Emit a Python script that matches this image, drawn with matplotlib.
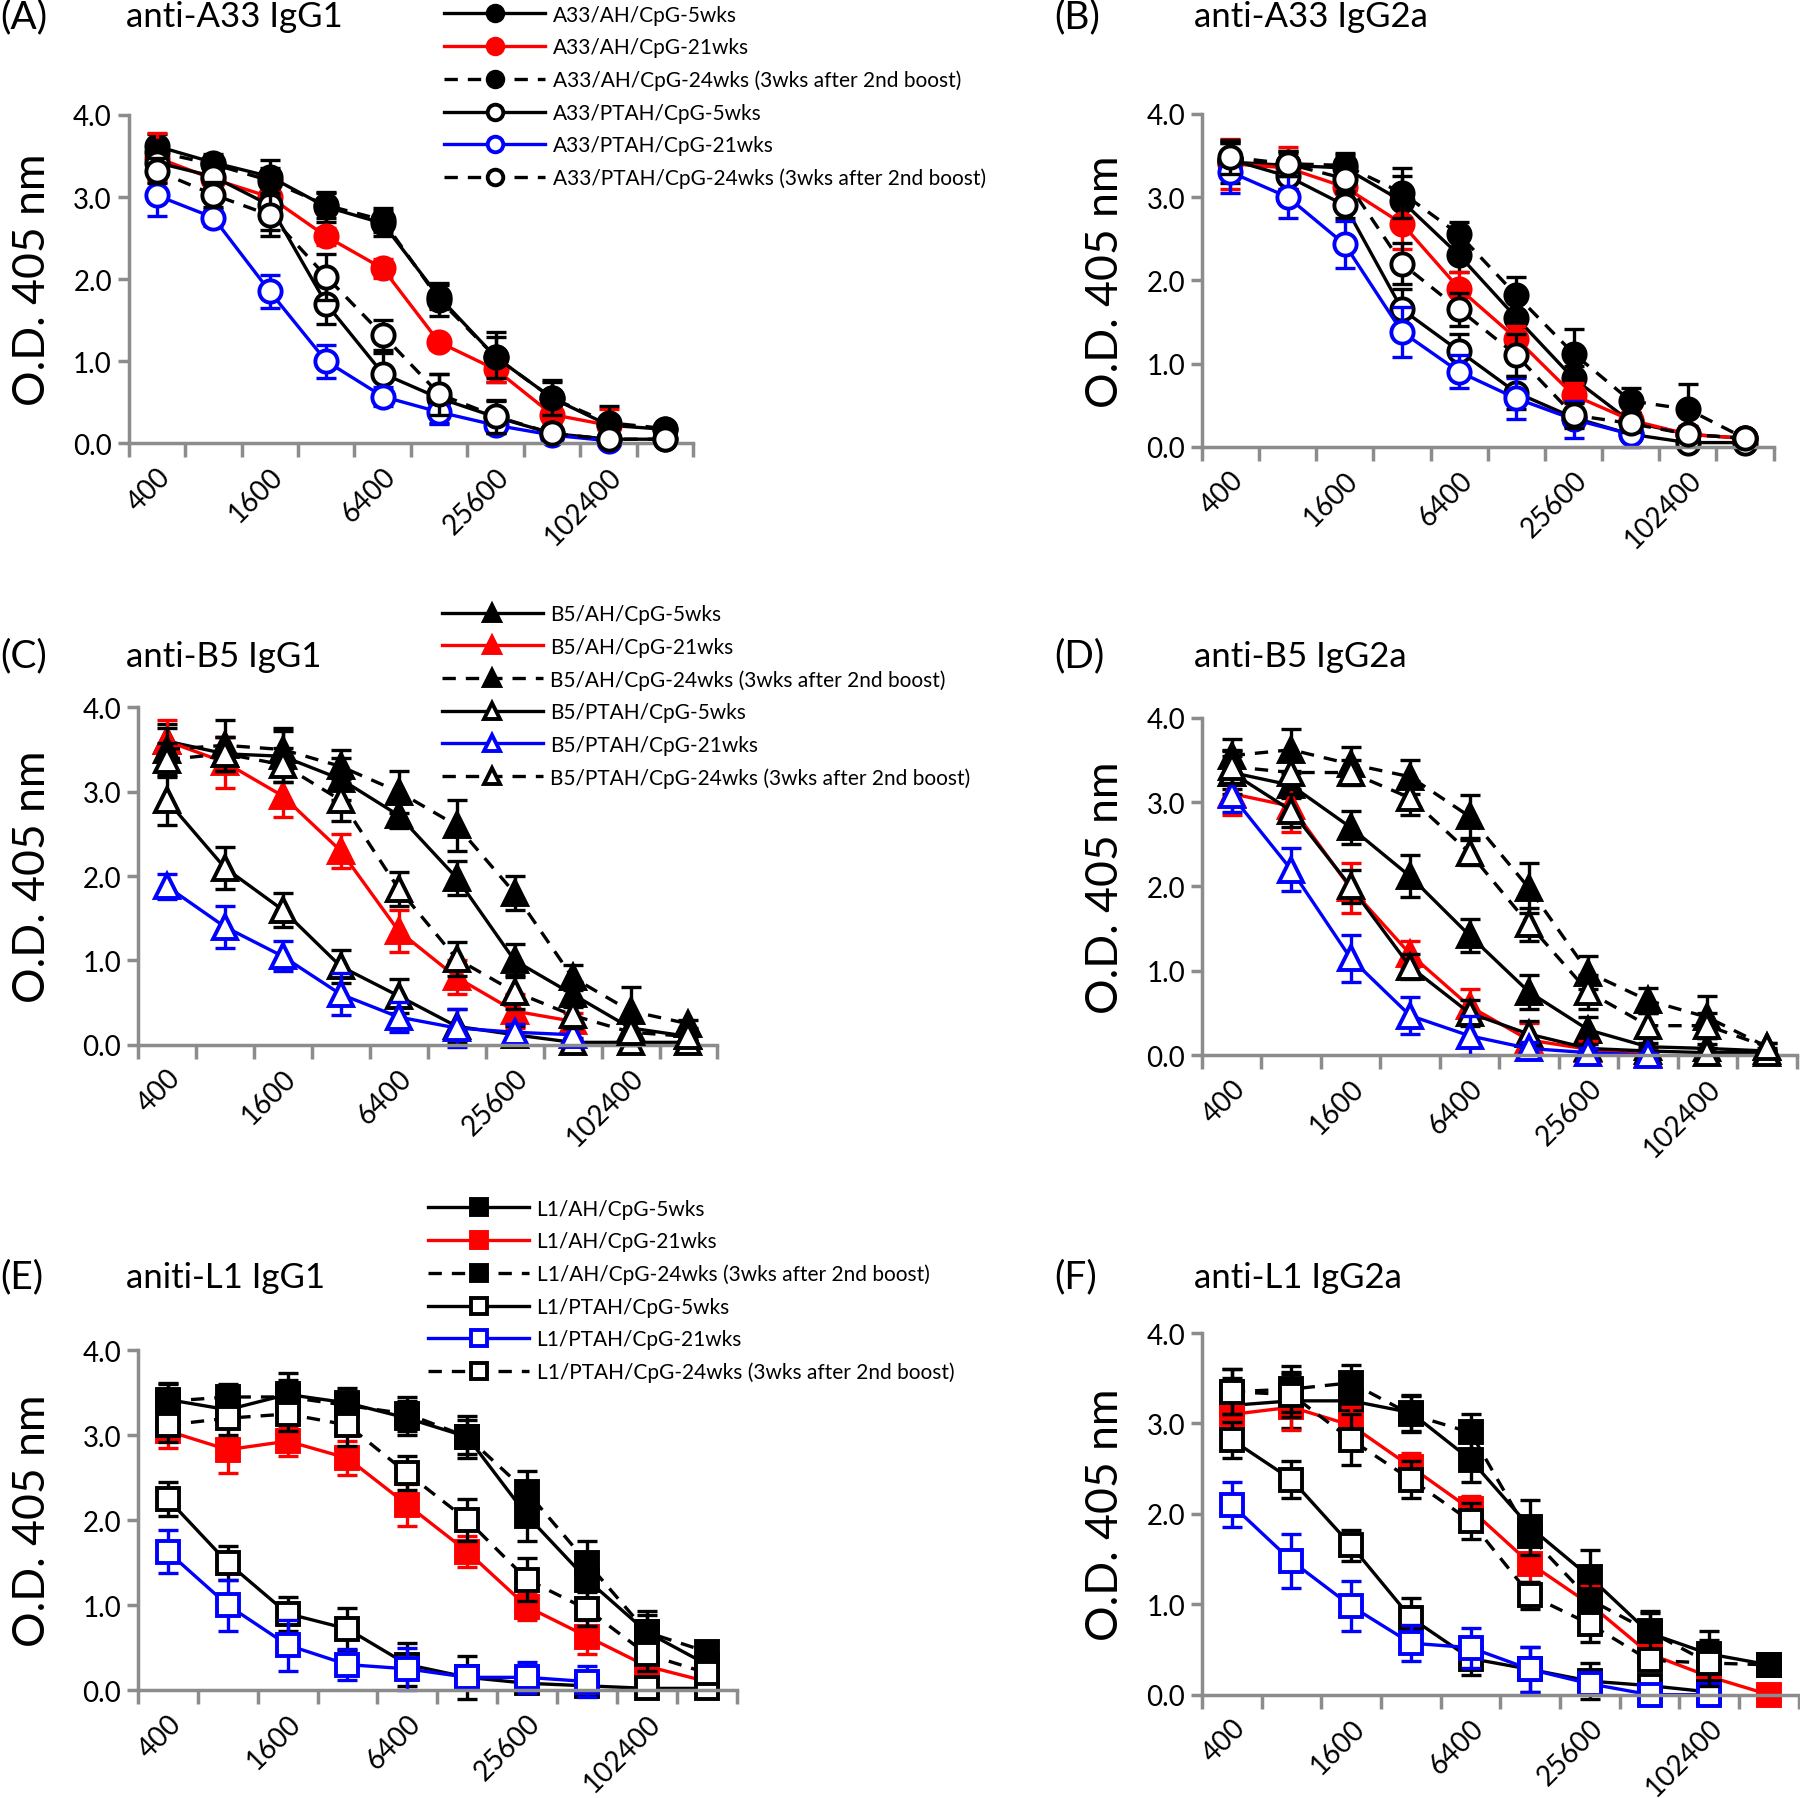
import numpy as np
import matplotlib.pyplot as plt

plt.rcParams['font.family'] = ['Lato', 'DejaVu Sans']

nan = np.nan
dilutions = ['400', '800', '1600', '3200', '6400', '12800', '25600', '51200', '102400', '204800']
groups = ['AH/CpG-5wks', 'AH/CpG-21wks', 'AH/CpG-24wks (3wks after 2nd boost)',
          'PTAH/CpG-5wks', 'PTAH/CpG-21wks', 'PTAH/CpG-24wks (3wks after 2nd boost)']

# O.D. 405 nm means, order of series = groups
a33_igg1 = [
    [3.62, 3.42, 3.25, 2.88, 2.68, 1.78, 1.05, 0.55, 0.22, 0.17],
    [3.48, 3.22, 3.00, 2.52, 2.13, 1.23, 0.90, 0.35, 0.22, nan],
    [3.55, 3.40, 3.20, 2.90, 2.72, 1.75, 1.05, 0.55, 0.25, 0.18],
    [3.42, 3.25, 2.90, 1.70, 0.85, 0.55, 0.32, 0.12, 0.05, 0.05],
    [3.02, 2.75, 1.85, 1.00, 0.57, 0.38, 0.22, 0.10, 0.03, nan],
    [3.32, 3.03, 2.78, 2.03, 1.32, 0.60, 0.33, 0.12, 0.05, 0.05],
]
a33_igg1_err = [
    [0.15, 0.10, 0.20, 0.18, 0.15, 0.15, 0.30, 0.22, 0.10, 0.05],
    [0.30, 0.10, 0.15, 0.10, 0.12, 0.08, 0.15, 0.10, 0.20, 0.05],
    [0.15, 0.10, 0.15, 0.15, 0.15, 0.20, 0.25, 0.20, 0.20, 0.05],
    [0.20, 0.15, 0.30, 0.25, 0.25, 0.30, 0.20, 0.05, 0.05, 0.03],
    [0.25, 0.10, 0.20, 0.20, 0.12, 0.15, 0.08, 0.05, 0.03, 0.03],
    [0.15, 0.15, 0.25, 0.28, 0.18, 0.25, 0.20, 0.05, 0.05, 0.03],
]

a33_igg2a = [
    [3.42, 3.38, 3.35, 2.95, 2.30, 1.55, 0.82, 0.30, 0.15, 0.10],
    [3.40, 3.35, 3.12, 2.68, 1.90, 1.30, 0.62, 0.32, 0.15, 0.10],
    [3.45, 3.40, 3.38, 3.05, 2.55, 1.82, 1.12, 0.55, 0.45, 0.10],
    [3.45, 3.25, 2.90, 1.65, 1.15, 0.65, 0.35, 0.15, 0.05, 0.05],
    [3.30, 3.00, 2.43, 1.38, 0.90, 0.58, 0.33, 0.15, nan, nan],
    [3.48, 3.40, 3.22, 2.20, 1.65, 1.10, 0.38, 0.28, 0.15, 0.10],
]
a33_igg2a_err = [
    [0.25, 0.15, 0.15, 0.30, 0.20, 0.20, 0.15, 0.10, 0.10, 0.05],
    [0.30, 0.25, 0.20, 0.30, 0.20, 0.15, 0.15, 0.10, 0.05, 0.05],
    [0.20, 0.15, 0.15, 0.30, 0.15, 0.22, 0.30, 0.15, 0.30, 0.05],
    [0.20, 0.15, 0.15, 0.25, 0.20, 0.20, 0.10, 0.05, 0.03, 0.03],
    [0.25, 0.25, 0.28, 0.30, 0.20, 0.25, 0.22, 0.15, 0.03, 0.03],
    [0.20, 0.15, 0.15, 0.25, 0.20, 0.25, 0.15, 0.10, 0.05, 0.03],
]

b5_igg1 = [
    [3.60, 3.45, 3.42, 3.15, 2.72, 1.98, 1.00, 0.60, 0.20, 0.10],
    [3.60, 3.35, 2.95, 2.30, 1.35, 0.80, 0.40, 0.28, nan, nan],
    [3.50, 3.55, 3.50, 3.30, 3.00, 2.60, 1.80, 0.80, 0.40, 0.25],
    [2.90, 2.10, 1.60, 0.93, 0.58, 0.22, 0.12, 0.03, 0.03, 0.03],
    [1.88, 1.40, 1.05, 0.60, 0.33, 0.20, 0.15, 0.12, nan, nan],
    [3.38, 3.45, 3.32, 2.90, 1.85, 1.02, 0.63, 0.35, 0.15, 0.10],
]
b5_igg1_err = [
    [0.20, 0.20, 0.30, 0.25, 0.15, 0.20, 0.20, 0.15, 0.10, 0.05],
    [0.25, 0.30, 0.25, 0.20, 0.25, 0.20, 0.20, 0.10, 0.00, 0.00],
    [0.25, 0.30, 0.25, 0.20, 0.25, 0.30, 0.20, 0.15, 0.28, 0.05],
    [0.30, 0.25, 0.20, 0.20, 0.20, 0.20, 0.10, 0.05, 0.05, 0.05],
    [0.15, 0.25, 0.18, 0.25, 0.18, 0.22, 0.10, 0.08, 0.00, 0.00],
    [0.20, 0.20, 0.20, 0.25, 0.20, 0.20, 0.20, 0.15, 0.15, 0.05],
]

b5_igg2a = [
    [3.35, 3.20, 2.70, 2.12, 1.42, 0.75, 0.30, 0.10, 0.08, 0.05],
    [3.10, 2.95, 1.98, 1.20, 0.58, 0.18, 0.07, 0.02, nan, nan],
    [3.55, 3.62, 3.45, 3.30, 2.83, 1.98, 0.98, 0.65, 0.45, 0.10],
    [3.35, 2.90, 2.00, 1.05, 0.50, 0.25, 0.08, 0.05, 0.03, 0.03],
    [3.08, 2.20, 1.15, 0.47, 0.23, 0.08, 0.03, 0.00, nan, nan],
    [3.42, 3.35, 3.35, 3.05, 2.40, 1.55, 0.75, 0.35, 0.35, 0.10],
]
b5_igg2a_err = [
    [0.20, 0.15, 0.20, 0.25, 0.20, 0.20, 0.15, 0.05, 0.05, 0.03],
    [0.25, 0.30, 0.30, 0.15, 0.20, 0.20, 0.10, 0.05, 0.00, 0.00],
    [0.20, 0.25, 0.20, 0.20, 0.25, 0.30, 0.20, 0.15, 0.25, 0.05],
    [0.25, 0.20, 0.20, 0.15, 0.15, 0.15, 0.05, 0.05, 0.05, 0.03],
    [0.20, 0.25, 0.28, 0.22, 0.23, 0.08, 0.05, 0.03, 0.00, 0.00],
    [0.20, 0.20, 0.15, 0.20, 0.15, 0.20, 0.20, 0.15, 0.15, 0.05],
]

l1_igg1 = [
    [3.42, 3.30, 3.48, 3.38, 3.20, 2.98, 2.05, 1.30, 0.68, 0.30],
    [3.05, 2.83, 2.93, 2.73, 2.18, 1.63, 0.98, 0.63, 0.28, 0.10],
    [3.40, 3.45, 3.45, 3.35, 3.25, 2.98, 2.33, 1.50, 0.68, 0.45],
    [2.25, 1.50, 0.90, 0.72, 0.30, 0.15, 0.08, 0.05, 0.02, 0.02],
    [1.63, 1.00, 0.53, 0.30, 0.25, 0.15, 0.15, 0.10, nan, nan],
    [3.12, 3.20, 3.25, 3.12, 2.55, 2.00, 1.30, 0.95, 0.42, 0.20],
]
l1_igg1_err = [
    [0.20, 0.15, 0.25, 0.18, 0.20, 0.25, 0.30, 0.30, 0.25, 0.10],
    [0.20, 0.28, 0.18, 0.20, 0.25, 0.18, 0.15, 0.20, 0.10, 0.05],
    [0.20, 0.15, 0.20, 0.15, 0.20, 0.20, 0.25, 0.25, 0.20, 0.10],
    [0.20, 0.20, 0.20, 0.25, 0.25, 0.25, 0.10, 0.05, 0.05, 0.05],
    [0.25, 0.30, 0.30, 0.18, 0.25, 0.10, 0.18, 0.18, 0.00, 0.00],
    [0.20, 0.20, 0.20, 0.25, 0.20, 0.25, 0.25, 0.20, 0.20, 0.10],
]

l1_igg2a = [
    [3.20, 3.25, 3.25, 3.12, 2.60, 1.85, 1.30, 0.68, 0.45, 0.33],
    [3.10, 3.18, 2.98, 2.52, 2.05, 1.45, 1.00, 0.45, 0.20, 0.00],
    [3.35, 3.38, 3.45, 3.10, 2.90, 1.75, 1.05, 0.70, 0.35, 0.33],
    [2.82, 2.38, 1.65, 0.85, 0.40, 0.28, 0.15, 0.10, 0.03, nan],
    [2.10, 1.48, 0.98, 0.57, 0.52, 0.28, 0.12, 0.00, 0.00, nan],
    [3.35, 3.32, 2.82, 2.38, 1.92, 1.10, 0.78, 0.38, 0.35, nan],
]
l1_igg2a_err = [
    [0.30, 0.30, 0.30, 0.20, 0.25, 0.30, 0.30, 0.25, 0.25, 0.05],
    [0.20, 0.25, 0.20, 0.15, 0.15, 0.20, 0.20, 0.10, 0.10, 0.05],
    [0.25, 0.25, 0.20, 0.20, 0.20, 0.20, 0.20, 0.20, 0.20, 0.05],
    [0.20, 0.20, 0.17, 0.22, 0.18, 0.25, 0.20, 0.10, 0.05, 0.00],
    [0.25, 0.30, 0.28, 0.20, 0.22, 0.25, 0.10, 0.05, 0.05, 0.00],
    [0.25, 0.25, 0.28, 0.20, 0.20, 0.15, 0.20, 0.10, 0.25, 0.00],
]

colors = ['black', 'red', 'black', 'black', 'blue', 'black']
styles = ['-', '-', '--', '-', '-', '--']
filled = [True, True, True, False, False, False]

W, H = 1568, 1567  # layout measured on the shrunk reference
panels = [
    # means, errs, antigen, marker, panel letter, title, (left, right, y4, y0), legend (x, top)
    (a33_igg1, a33_igg1_err, 'A33', 'o', '(A)', 'anti-A33 IgG1', (112, 604, 101, 387), (387, 5)),
    (a33_igg2a, a33_igg2a_err, 'A33', 'o', '(B)', 'anti-A33 IgG2a', (1047, 1545, 100, 390), None),
    (b5_igg1, b5_igg1_err, 'B5', '^', '(C)', 'anti-B5 IgG1', (120, 625, 617, 911), (385, 527)),
    (b5_igg2a, b5_igg2a_err, 'B5', '^', '(D)', 'anti-B5 IgG2a', (1047, 1565, 626, 920), None),
    (l1_igg1, l1_igg1_err, 'L1', 's', '(E)', 'aniti-L1 IgG1', (120, 642, 1177, 1473), (373, 1045)),
    (l1_igg2a, l1_igg2a_err, 'L1', 's', '(F)', 'anti-L1 IgG2a', (1047, 1567, 1162, 1477), None),
]
header_y = [15, 15, 572, 572, 1113, 1113]

fig = plt.figure(figsize=(18, 17.99), dpi=100)
x = np.arange(len(dilutions))
axis_gray = '#8c8c8c'

for k, (means, errs, ag, mk, letter, title, box, leg) in enumerate(panels):
    l, r, y4, y0 = box
    ax = fig.add_axes([l / W, 1 - y0 / H, (r - l) / W, (y0 - y4) / H])
    handles = []
    for i in range(6):
        y = np.array(means[i], dtype=float)
        e = np.array(errs[i], dtype=float)
        c = colors[i]
        ax.errorbar(x, y, yerr=e, fmt='none', ecolor=c, elinewidth=2.4, capsize=7.5,
                    capthick=2.4, zorder=2 + i * 0.1, clip_on=False)
        ms = 16 if mk != '^' else 17
        h, = ax.plot(x, y, color=c, ls=styles[i], lw=2.4, marker=mk, ms=ms,
                     mfc=c if filled[i] else 'white', mec=c, mew=2.8,
                     zorder=2.05 + i * 0.1, clip_on=False,
                     label=f'{ag}/{groups[i]}')
        if styles[i] == '--':
            h.set_dashes((4, 3))
        handles.append(h)

    ax.set_xlim(-0.5, len(dilutions) - 0.5)
    ax.set_ylim(0, 4)
    ax.set_yticks([0, 1, 2, 3, 4])
    ax.set_yticklabels(['0.0', '1.0', '2.0', '3.0', '4.0'])
    ax.set_xticks(np.arange(-0.5, len(dilutions)), labels=[])
    ax.set_xticks(x[::2], labels=dilutions[::2], minor=True)
    ax.tick_params(axis='x', which='major', direction='out', length=10, width=2.5, color=axis_gray)
    ax.tick_params(axis='x', which='minor', length=0, pad=14, labelsize=20)
    ax.tick_params(axis='y', direction='out', length=8, width=2.5, color=axis_gray,
                   labelsize=20, pad=4)
    for lab in ax.get_xticklabels(minor=True):
        lab.set_rotation(45)
        lab.set_ha('right')
        lab.set_va('top')
        lab.set_rotation_mode('anchor')
    for s in ['top', 'right']:
        ax.spines[s].set_visible(False)
    for s in ['left', 'bottom']:
        ax.spines[s].set_color(axis_gray)
        ax.spines[s].set_linewidth(2.5)

    # y label, panel letter and title
    ylab_x = 28 if l < 500 else 963
    fig.text(ylab_x / W, 1 - (y4 + y0) / 2 / H, 'O.D. 405 nm', rotation=90,
             ha='center', va='center', fontsize=32)
    let_x = 0 if l < 500 else 918
    tit_x = 110 if l < 500 else 1040
    fig.text(let_x / W, 1 - header_y[k] / H, letter, ha='left', va='center', fontsize=28)
    fig.text(tit_x / W, 1 - header_y[k] / H, title, ha='left', va='center', fontsize=25)

    if leg is not None:
        lx, ly = leg
        fig.legend(handles=handles, loc='upper left',
                   bbox_to_anchor=(lx / W, 1 - ly / H), frameon=False,
                   fontsize=15, handlelength=4.85, handletextpad=0.35,
                   labelspacing=0.6, borderpad=0, borderaxespad=0, markerscale=0.7)

fig.savefig('out.png', dpi=100)
